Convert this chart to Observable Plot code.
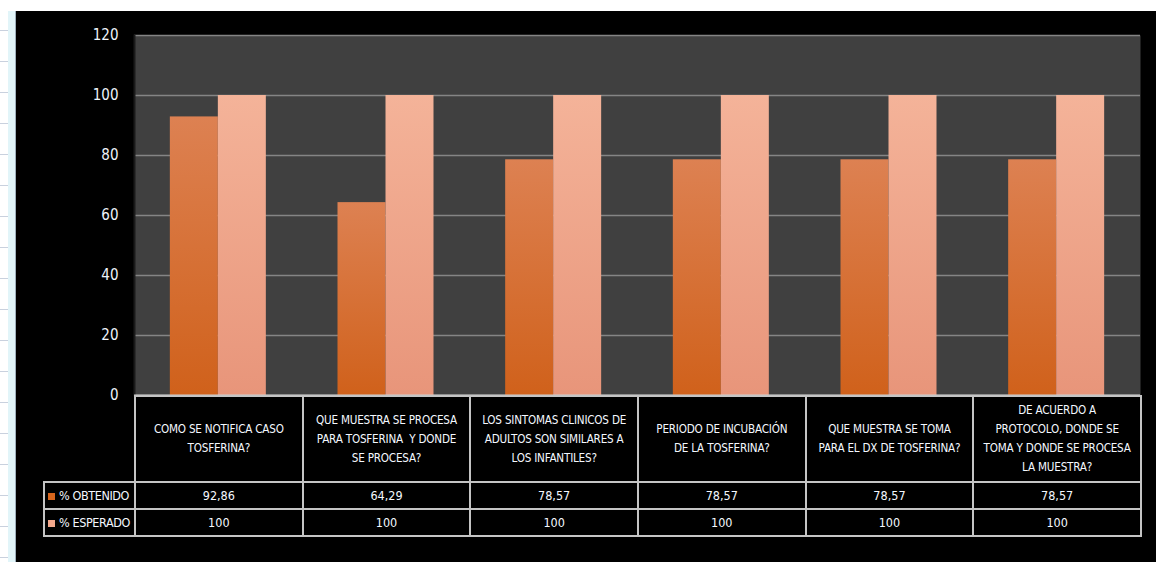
<!DOCTYPE html>
<html><head><meta charset="utf-8">
<script src="https://cdn.jsdelivr.net/npm/d3@7"></script>
<script src="https://cdn.jsdelivr.net/npm/@observablehq/plot@0.6"></script>
<style>
html,body{margin:0;padding:0;background:#fff;width:1156px;height:562px;overflow:hidden;position:relative;}
#strip{position:absolute;left:0;top:0;width:8px;height:562px;
  background:repeating-linear-gradient(to bottom, transparent 0px, transparent 30px, #c9d1de 30px, #c9d1de 31px, transparent 31px, transparent 28.7px);}
#strip2{position:absolute;left:8px;top:11px;width:7px;height:551px;background:#e2f5f9;border-right:1px solid #9fb0bc;}
#chart{position:absolute;left:16px;top:11px;width:1140px;height:551px;background:#000;}
#plot{position:absolute;left:0;top:0;}
#tbl{position:absolute;left:27px;top:384px;border-collapse:collapse;table-layout:fixed;width:1097px;
  font-family:"Liberation Sans Narrow","DejaVu Sans Condensed",sans-serif;color:#f4f8ff;}
#tbl td{border:2px solid #c4c4c4;text-align:center;padding:0;overflow:hidden;}
#tbl td.blank{border:none;border-right:2px solid #c4c4c4;}
#tbl tr.head td{height:84px;font-size:11.6px;letter-spacing:-0.2px;line-height:19px;white-space:pre;}
#tbl tr.val td{height:25px;font-size:12.5px;}
#tbl td.leg{text-align:left;font-size:11px;letter-spacing:-0.4px;padding-left:3px;white-space:nowrap;}
.sw{display:inline-block;width:7px;height:7px;margin-right:4px;vertical-align:0px;}
</style></head>
<body>
<div id="strip"></div><div id="strip2"></div>
<div id="chart"><div id="plot"></div><table id="tbl"></table></div>
<script>
const categories = [
  "COMO SE NOTIFICA CASO\nTOSFERINA?",
  "QUE MUESTRA SE PROCESA\nPARA TOSFERINA  Y DONDE\nSE PROCESA?",
  "LOS SINTOMAS CLINICOS DE\nADULTOS SON SIMILARES A\nLOS INFANTILES?",
  "PERIODO DE INCUBACIÓN\nDE LA TOSFERINA?",
  "QUE MUESTRA SE TOMA\nPARA EL DX DE TOSFERINA?",
  "DE ACUERDO A\nPROTOCOLO, DONDE SE\nTOMA Y DONDE SE PROCESA\nLA MUESTRA?"
];
const obtenido = [92.86, 64.29, 78.57, 78.57, 78.57, 78.57];
const esperado = [100, 100, 100, 100, 100, 100];
const obtenidoLabels = ["92,86", "64,29", "78,57", "78,57", "78,57", "78,57"];
const esperadoLabels = ["100", "100", "100", "100", "100", "100"];
const seriesNames = ["% OBTENIDO", "% ESPERADO"];
const seriesColors = ["#d6651d", "#f3a88c"];
const yTicks = [0, 20, 40, 60, 80, 100, 120];

const data = categories.map((c, i) => ({cat: c, obt: obtenido[i], esp: esperado[i]}));

function defs() {
  const d = d3.create("svg:defs");
  const g1 = d.append("linearGradient").attr("id", "gO").attr("x1", 0).attr("y1", 0).attr("x2", 0).attr("y2", 1);
  g1.append("stop").attr("offset", "0%").attr("stop-color", "#dd8152");
  g1.append("stop").attr("offset", "100%").attr("stop-color", "#d0611b");
  const g2 = d.append("linearGradient").attr("id", "gE").attr("x1", 0).attr("y1", 0).attr("x2", 0).attr("y2", 1);
  g2.append("stop").attr("offset", "0%").attr("stop-color", "#f4b399");
  g2.append("stop").attr("offset", "100%").attr("stop-color", "#e8957a");
  return d.node();
}

const chart = Plot.plot({
  width: 1140, height: 398,
  marginLeft: 118, marginRight: 16, marginTop: 24, marginBottom: 14,
  style: {background: "transparent", fontFamily: "'Liberation Sans Narrow','DejaVu Sans Condensed',sans-serif", fontSize: "15px", color: "#eef3fa"},
  x: {domain: categories, paddingInner: 0.4275, paddingOuter: 0.21375, axis: null, round: false},
  y: {domain: [0, 120], axis: null},
  marks: [
    defs,
    Plot.frame({fill: "#404040", stroke: "none"}),
    Plot.gridY(yTicks, {stroke: "#858585", strokeOpacity: 1, strokeWidth: 1.5}),
    Plot.barY(data, {x: "cat", y: "obt", fill: "url(#gO)", insetRight: 48}),
    Plot.barY(data, {x: "cat", y: "esp", fill: "url(#gE)", insetLeft: 48}),
    Plot.frame({anchor: "left", stroke: "#1a1a1a", strokeWidth: 2}),
    Plot.ruleY([0], {stroke: "#cfcfcf", strokeWidth: 2}),
    Plot.axisY(yTicks, {tickSize: 0, tickPadding: 16, fontSize: 15, fill: "#eef3fa"})
  ]
});
document.getElementById("plot").appendChild(chart);

// data table
const tbl = d3.select("#tbl");
const cg = tbl.append("colgroup");
cg.append("col").style("width", "91px");
categories.forEach(() => cg.append("col").style("width", "167.67px"));
const head = tbl.append("tr").attr("class", "head");
head.append("td").attr("class", "blank");
categories.forEach(c => head.append("td").text(c));
[[seriesNames[0], seriesColors[0], obtenidoLabels], [seriesNames[1], seriesColors[1], esperadoLabels]].forEach(([name, col, vals]) => {
  const tr = tbl.append("tr").attr("class", "val");
  const td = tr.append("td").attr("class", "leg");
  td.append("span").attr("class", "sw").style("background", col);
  td.append("span").text(name);
  vals.forEach(v => tr.append("td").text(v));
});
</script>
</body></html>
